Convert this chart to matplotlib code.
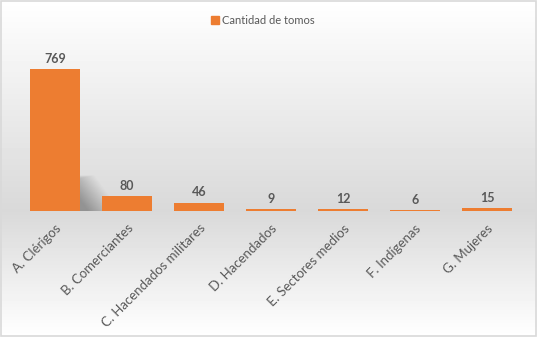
import numpy as np
import matplotlib.pyplot as plt
from matplotlib.patches import Patch

categorias = ['A. Clérigos', 'B. Comerciantes', 'C. Hacendados militares',
              'D. Hacendados', 'E. Sectores medios', 'F. Indígenas', 'G. Mujeres']
tomos = [769, 80, 46, 9, 12, 6, 15]

naranja = '#ed7d31'
gris_texto = '#595959'

plt.rcParams['font.family'] = ['Lato', 'DejaVu Sans']

fig = plt.figure(figsize=(5.37, 3.37), dpi=100)

# fondo degradado (blanco arriba, gris en el eje, blanco abajo)
fondo = fig.add_axes([0, 0, 1, 1], zorder=0)
y = np.linspace(0, 1, 337)
pico = 1 - 211 / 337
grad = np.where(y > pico, (1 - y) / (1 - pico), y / pico)
tono = 1 - 0.15 * grad
img = np.repeat(tono[:, None], 2, axis=1)
fondo.imshow(img, aspect='auto', cmap='gray', vmin=0, vmax=1,
             origin='lower', extent=[0, 1, 0, 1])
fondo.add_patch(plt.Rectangle((0.001, 0.002), 0.997, 0.995, fill=False,
                              edgecolor='#d9d9d9', lw=1.2,
                              transform=fondo.transAxes))
fondo.axis('off')

ax = fig.add_axes([19 / 537, 1 - 211 / 337, (523 - 19) / 537, 166 / 337], zorder=1)
ax.patch.set_alpha(0)
x = np.arange(len(categorias))
barras = ax.bar(x, tomos, width=0.7, color=naranja, zorder=3)

# sombra suave de la primera barra
x0, x1 = 0.35, 0.85
y1 = 190
gx, gy = np.meshgrid(np.linspace(0, 1, 120), np.linspace(0, 1, 120))
alfa = np.clip(1.25 - 1.1 * gx - 0.8 * gy, 0, 1)
alfa = np.minimum(alfa, np.clip((1 - gy) * 6, 0, 1)) * 0.5
sombra = np.zeros((120, 120, 4))
sombra[..., :3] = 0.3
sombra[..., 3] = alfa
ax.imshow(sombra, extent=[x0, x1, 0, y1], origin='lower', aspect='auto',
          zorder=2, interpolation='bilinear')
ax.set_xlim(-0.5, len(categorias) - 0.5)
ax.set_ylim(0, 900)

for xi, v in zip(x, tomos):
    ax.annotate(str(v), (xi, v), xytext=(0, 3), textcoords='offset points',
                ha='center', va='bottom', fontsize=9, fontweight='bold',
                color=gris_texto)

ax.set_xticks(x)
ax.set_xticklabels(categorias, rotation=45, ha='right', rotation_mode='anchor',
                   fontsize=9.5, color=gris_texto)
ax.tick_params(axis='x', length=0, pad=8)
ax.set_yticks([])
for s in ax.spines.values():
    s.set_visible(False)

fig.legend(handles=[Patch(color=naranja, label='Cantidad de tomos')],
           loc='upper center', bbox_to_anchor=(0.49, 0.985), frameon=False,
           fontsize=8, handlelength=0.7, handleheight=0.7, handletextpad=0.3,
           labelcolor=gris_texto)

fig.savefig('out.png', dpi=100)
